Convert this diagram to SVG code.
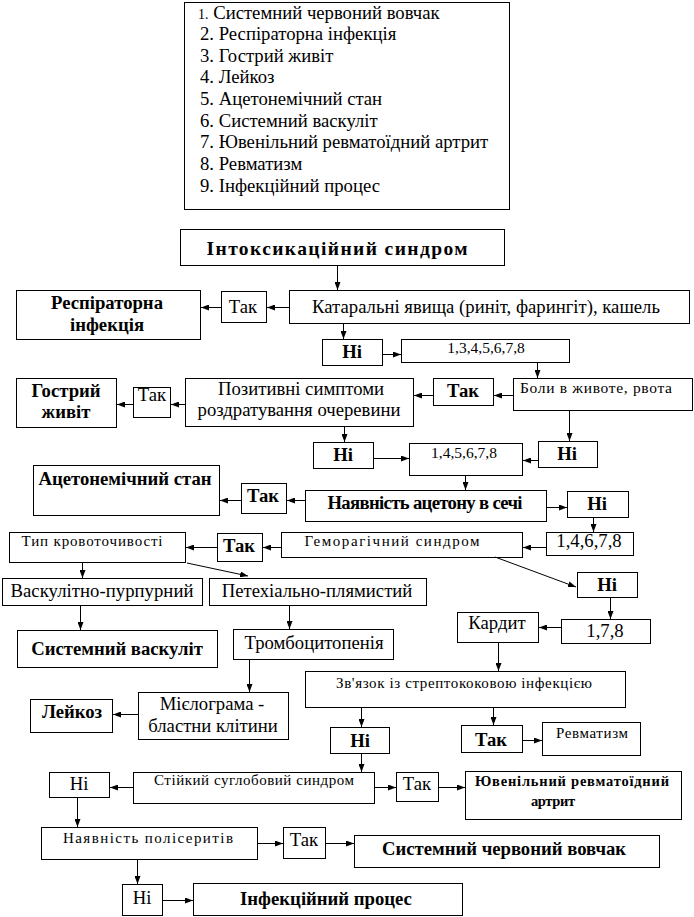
<svg xmlns="http://www.w3.org/2000/svg" width="694" height="917" viewBox="0 0 694 917" font-family="'Liberation Serif', 'Times New Roman', serif">
<style>
.b{fill:#fff;stroke:#000;stroke-width:1}
.t{font-family:'Liberation Serif','Times New Roman',serif;fill:#000;font-size:18.7px}
.m{text-anchor:middle}
.bd{font-weight:bold}
.s{font-size:15px}
.n{font-size:15.5px}
.h{font-size:19.5px}
.c line{stroke:#000;stroke-width:1;marker-end:url(#ah)}
</style>
<defs>
<marker id="ah" markerUnits="userSpaceOnUse" markerWidth="8" markerHeight="6" refX="8" refY="3" orient="auto"><path d="M0,0 L8,3 L0,6 z" fill="#000"/></marker>
</defs>
<rect width="694" height="917" fill="#fff"/>

<g id="legend">
<rect class="b" x="184.5" y="2.5" width="325" height="207"/>
<text class="t" x="198" y="19"><tspan style="font-size:14px">1.</tspan> Системний червоний вовчак</text>
<text class="t" x="200" y="40">2. Респіраторна інфекція</text>
<text class="t" x="200" y="62">3. Гострий живіт</text>
<text class="t" x="200" y="83">4. Лейкоз</text>
<text class="t" x="200" y="105">5. Ацетонемічний стан</text>
<text class="t" x="200" y="127">6. Системний васкуліт</text>
<text class="t" x="200" y="148">7. Ювенільний ревматоїдний артрит</text>
<text class="t" x="200" y="170">8. Ревматизм</text>
<text class="t" x="200" y="192">9. Інфекційний процес</text>
</g>

<g id="intox"><rect class="b" x="180.5" y="229.5" width="324" height="36"/>
<text class="t bd m h" x="337" y="255" textLength="261" lengthAdjust="spacing">Інтоксикаційний синдром</text></g>

<g id="kataral"><rect class="b" x="289.5" y="290.5" width="400" height="33"/>
<text class="t m" x="486" y="313">Катаральні явища (риніт, фарингіт), кашель</text></g>
<g id="tak1"><rect class="b" x="221.5" y="291.5" width="45" height="31"/><text class="t m" x="243" y="313">Так</text></g>
<g id="resp"><rect class="b" x="16.5" y="290.5" width="184" height="49"/>
<text class="t bd m" x="107" y="309">Респіраторна</text><text class="t bd m" x="107" y="331">інфекція</text></g>

<g id="ni1"><rect class="b" x="322.5" y="339.5" width="60" height="26"/><text class="t bd m" x="352" y="358">Ні</text></g>
<g id="l1"><rect class="b" x="401.5" y="339.5" width="168" height="23"/><text class="t n m" x="486" y="353">1,3,4,5,6,7,8</text></g>

<g id="boly"><rect class="b" x="513.5" y="378.5" width="179" height="32"/>
<text class="t m" x="596" y="393" style="font-size:15.5px" textLength="152" lengthAdjust="spacing">Боли в животе, рвота</text></g>
<g id="tak2"><rect class="b" x="433.5" y="378.5" width="60" height="27"/><text class="t bd m" x="463" y="397">Так</text></g>
<g id="pozit"><rect class="b" x="185.5" y="378.5" width="228" height="48"/>
<text class="t m" x="301" y="395">Позитивні симптоми</text><text class="t m" x="299" y="416">роздратування очеревини</text></g>
<g id="tak3"><rect class="b" x="133.5" y="387.5" width="37" height="30"/><text class="t m" x="152" y="401">Так</text></g>
<g id="gostr"><rect class="b" x="16.5" y="378.5" width="100" height="49"/>
<text class="t bd m" x="66" y="397">Гострий</text><text class="t bd m" x="66" y="418">живіт</text></g>

<g id="ni2"><rect class="b" x="313.5" y="442.5" width="60" height="26"/><text class="t bd m" x="343" y="461">Ні</text></g>
<g id="l2"><rect class="b" x="409.5" y="443.5" width="113" height="32"/><text class="t n m" x="464" y="458">1,4,5,6,7,8</text></g>
<g id="ni3"><rect class="b" x="538.5" y="441.5" width="59" height="26"/><text class="t bd m" x="567" y="460">Ні</text></g>

<g id="aceton"><rect class="b" x="33.5" y="465.5" width="186" height="50"/>
<text class="t bd m" x="125" y="485">Ацетонемічний стан</text></g>
<g id="tak4"><rect class="b" x="241.5" y="483.5" width="45" height="30"/><text class="t bd m" x="263" y="502">Так</text></g>
<g id="nayav"><rect class="b" x="305.5" y="490.5" width="241" height="31"/>
<text class="t bd m" x="425" y="509" textLength="195" lengthAdjust="spacing">Наявність ацетону в сечі</text></g>
<g id="ni4"><rect class="b" x="567.5" y="491.5" width="61" height="26"/><text class="t bd m" x="597" y="510">Ні</text></g>

<g id="l3"><rect class="b" x="546.5" y="532.5" width="87" height="23"/><text class="t m" x="589" y="547">1,4,6,7,8</text></g>
<g id="gemor"><rect class="b" x="281.5" y="532.5" width="241" height="25"/>
<text class="t m" x="392" y="546" style="font-size:15px" textLength="175" lengthAdjust="spacing">Геморагічний синдром</text></g>
<g id="tak5"><rect class="b" x="217.5" y="533.5" width="45" height="28"/><text class="t bd m" x="239" y="552">Так</text></g>
<g id="typ"><rect class="b" x="9.5" y="532.5" width="176" height="30"/>
<text class="t s m" x="92" y="546" textLength="141" lengthAdjust="spacing">Тип кровоточивості</text></g>

<g id="vask"><rect class="b" x="2.5" y="578.5" width="200" height="27"/>
<text class="t m" x="102" y="597" textLength="183" lengthAdjust="spacing">Васкулітно-пурпурний</text></g>
<g id="petech"><rect class="b" x="209.5" y="578.5" width="217" height="27"/>
<text class="t m" x="317" y="597">Петехіально-плямистий</text></g>
<g id="ni5"><rect class="b" x="577.5" y="572.5" width="60" height="25"/><text class="t bd m" x="607" y="591">Ні</text></g>

<g id="kardyt"><rect class="b" x="457.5" y="612.5" width="81" height="30"/><text class="t m" x="497" y="629">Кардит</text></g>
<g id="l4"><rect class="b" x="561.5" y="619.5" width="89" height="24"/><text class="t m" x="605" y="637">1,7,8</text></g>

<g id="sysvask"><rect class="b" x="17.5" y="630.5" width="200" height="37"/>
<text class="t bd m" x="117" y="655">Системний васкуліт</text></g>
<g id="tromb"><rect class="b" x="233.5" y="629.5" width="160" height="30"/>
<text class="t m" x="314" y="649">Тромбоцитопенія</text></g>

<g id="zvyaz"><rect class="b" x="305.5" y="671.5" width="320" height="36"/>
<text class="t m" x="464" y="688" style="font-size:15px" textLength="256" lengthAdjust="spacing">Зв'язок із стрептококовою інфекцією</text></g>

<g id="mielo"><rect class="b" x="138.5" y="692.5" width="150" height="47"/>
<text class="t m" x="212" y="710">Мієлограма -</text><text class="t m" x="213" y="732">бластни клітини</text></g>
<g id="leikoz"><rect class="b" x="30.5" y="699.5" width="82" height="33"/><text class="t bd m" x="72" y="718">Лейкоз</text></g>

<g id="ni6"><rect class="b" x="330.5" y="727.5" width="59" height="26"/><text class="t bd m" x="360" y="747">Ні</text></g>
<g id="tak6"><rect class="b" x="461.5" y="725.5" width="61" height="27"/><text class="t bd m" x="491" y="746">Так</text></g>
<g id="revm"><rect class="b" x="542.5" y="722.5" width="98" height="33"/><text class="t s m" x="592" y="738" textLength="72" lengthAdjust="spacing">Ревматизм</text></g>

<g id="stiik"><rect class="b" x="133.5" y="772.5" width="241" height="31"/>
<text class="t s m" x="254" y="785" textLength="200" lengthAdjust="spacing">Стійкий суглобовий синдром</text></g>
<g id="ni7"><rect class="b" x="49.5" y="772.5" width="60" height="25"/><text class="t m" x="79" y="790">Ні</text></g>
<g id="tak7"><rect class="b" x="396.5" y="772.5" width="42" height="29"/><text class="t m" x="417" y="790">Так</text></g>
<g id="yuven"><rect class="b" x="465.5" y="771.5" width="216" height="48"/>
<text class="t bd m" x="572" y="786" style="font-size:14.5px" textLength="194" lengthAdjust="spacing">Ювенільний ревматоїдний</text>
<text class="t bd m" x="553" y="806" style="font-size:14.5px" textLength="44" lengthAdjust="spacing">артрит</text></g>

<g id="polis"><rect class="b" x="41.5" y="827.5" width="216" height="32"/>
<text class="t s m" x="148" y="843" textLength="170" lengthAdjust="spacing">Наявність полісеритів</text></g>
<g id="tak8"><rect class="b" x="283.5" y="827.5" width="42" height="31"/><text class="t m" x="304" y="846">Так</text></g>
<g id="scv"><rect class="b" x="354.5" y="835.5" width="305" height="32"/>
<text class="t bd m" x="504" y="855">Системний червоний вовчак</text></g>

<g id="ni8"><rect class="b" x="122.5" y="884.5" width="40" height="31"/><text class="t m" x="142" y="904">Ні</text></g>
<g id="infek"><rect class="b" x="193.5" y="883.5" width="269" height="32"/>
<text class="t bd m" x="326" y="905">Інфекційний процес</text></g>

<g class="c" id="connectors">
<line x1="337.5" y1="266" x2="337.5" y2="290"/>
<line x1="289" y1="307.5" x2="267" y2="307.5"/>
<line x1="221" y1="307.5" x2="201" y2="307.5"/>
<line x1="343.5" y1="324" x2="343.5" y2="339"/>
<line x1="383" y1="354.5" x2="401" y2="354.5"/>
<line x1="537.5" y1="363" x2="537.5" y2="378"/>
<line x1="513" y1="395.5" x2="494" y2="395.5"/>
<line x1="433" y1="395.5" x2="414" y2="395.5"/>
<line x1="185" y1="404.5" x2="171" y2="404.5"/>
<line x1="133" y1="404.5" x2="117" y2="404.5"/>
<line x1="344.5" y1="427" x2="344.5" y2="442"/>
<line x1="569.5" y1="411" x2="569.5" y2="441"/>
<line x1="374" y1="458.5" x2="409" y2="458.5"/>
<line x1="538" y1="460.5" x2="523" y2="460.5"/>
<line x1="465.5" y1="476" x2="465.5" y2="490"/>
<line x1="305" y1="500.5" x2="287" y2="500.5"/>
<line x1="241" y1="500.5" x2="220" y2="500.5"/>
<line x1="547" y1="507.5" x2="567" y2="507.5"/>
<line x1="593.5" y1="518" x2="593.5" y2="532"/>
<line x1="546" y1="547.5" x2="523" y2="547.5"/>
<line x1="281" y1="547.5" x2="263" y2="547.5"/>
<line x1="217" y1="547.5" x2="186" y2="547.5"/>
<line x1="82.5" y1="563" x2="82.5" y2="578"/>
<line x1="187" y1="563" x2="248" y2="576"/>
<line x1="495" y1="557" x2="576" y2="587"/>
<line x1="289.5" y1="606" x2="289.5" y2="629"/>
<line x1="80.5" y1="606" x2="80.5" y2="630"/>
<line x1="610.5" y1="598" x2="610.5" y2="619"/>
<line x1="561" y1="627.5" x2="539" y2="627.5"/>
<line x1="498.5" y1="643" x2="498.5" y2="671"/>
<line x1="249.5" y1="660" x2="249.5" y2="692"/>
<line x1="138" y1="714.5" x2="113" y2="714.5"/>
<line x1="361.5" y1="708" x2="361.5" y2="727"/>
<line x1="493.5" y1="708" x2="493.5" y2="725"/>
<line x1="523" y1="740.5" x2="542" y2="740.5"/>
<line x1="361.5" y1="754" x2="361.5" y2="772"/>
<line x1="133" y1="787.5" x2="110" y2="787.5"/>
<line x1="375" y1="787.5" x2="396" y2="787.5"/>
<line x1="439" y1="787.5" x2="465" y2="787.5"/>
<line x1="77.5" y1="798" x2="77.5" y2="827"/>
<line x1="258" y1="843.5" x2="283" y2="843.5"/>
<line x1="326" y1="843.5" x2="354" y2="843.5"/>
<line x1="137.5" y1="860" x2="137.5" y2="884"/>
<line x1="163" y1="900.5" x2="193" y2="900.5"/>
</g>
</svg>
